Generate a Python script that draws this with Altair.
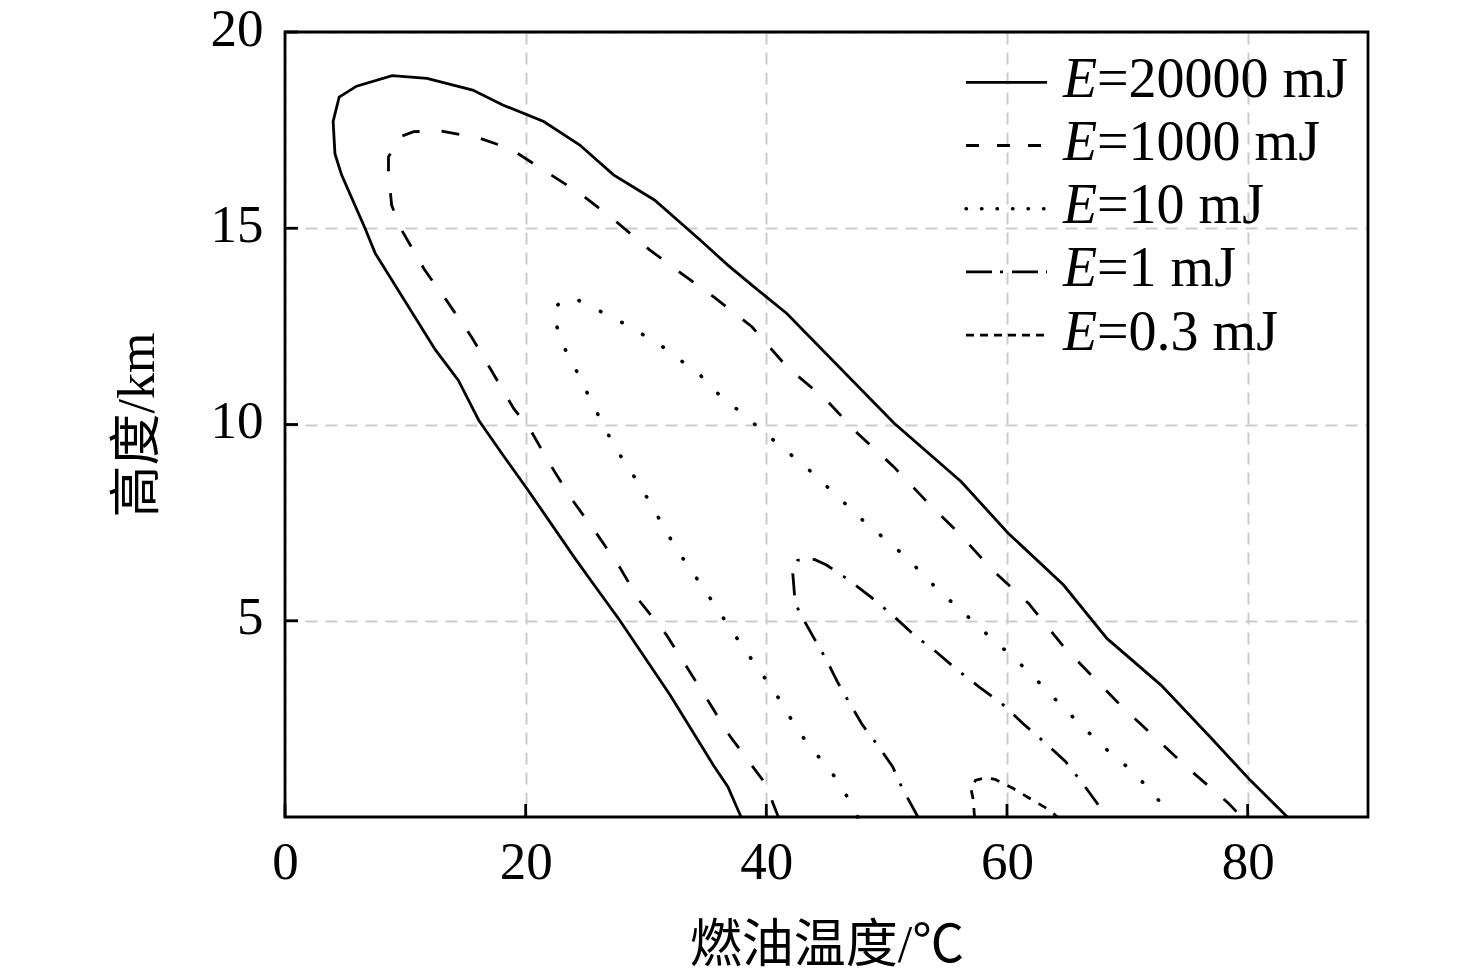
import altair as alt
import pandas as pd

W, H = 1083, 785
FONT = "Liberation Serif, Noto Sans CJK SC"

# ---- data ----
series = ["E=20000 mJ", "E=1000 mJ", "E=10 mJ", "E=1 mJ", "E=0.3 mJ"]
legend_rest = ["=20000 mJ", "=1000 mJ", "=10 mJ", "=1 mJ", "=0.3 mJ"]

T_20000 = [37.9, 36.8, 35.6, 32.0, 27.8, 25.6, 24.1, 20.1, 18.3, 16.1, 14.4, 12.5, 7.5, 6.65, 4.7, 4.15,
           4.0, 4.5, 5.95, 8.9, 11.8, 15.6, 18.1, 21.5, 24.5, 27.3, 30.7, 34.5, 36.8, 38.8, 41.7, 50.6,
           56.2, 60.1, 64.7, 68.3, 72.8, 77.0, 80.2, 83.3]
h_20000 = [0.0, 0.77, 1.32, 3.11, 5.02, 5.95, 6.59, 8.37, 9.14, 10.11, 11.13, 11.9, 14.36, 15.0, 16.36, 16.9,
           17.72, 18.34, 18.62, 18.89, 18.82, 18.52, 18.14, 17.72, 17.12, 16.36, 15.72, 14.7, 14.06, 13.55,
           12.83, 10.04, 8.54, 7.23, 5.91, 4.55, 3.36, 2.0, 0.94, 0.0]

T_1000 = [41.0, 39.9, 37.0, 35.2, 31.7, 29.5, 27.8, 25.9, 23.8, 22.0, 20.4, 19.0, 17.3, 15.5, 13.4, 11.6,
          9.55, 8.86, 8.6, 8.6, 9.55, 10.7, 12.9, 16.2, 18.7, 21.5, 24.5, 27.4, 30.3, 33.1, 35.6, 38.8,
          41.7, 45.0, 47.6, 50.6, 53.2, 56.0, 58.8, 61.8, 64.7, 69.3, 74.9, 78.4, 79.5]
h_1000 = [0.0, 0.86, 2.05, 2.94, 4.64, 5.49, 6.37, 7.22, 8.11, 9.0, 9.86, 10.41, 11.3, 12.23, 13.17, 13.94,
          15.03, 15.59, 16.44, 16.82, 17.33, 17.46, 17.48, 17.29, 17.03, 16.48, 15.89, 15.2, 14.45, 13.81,
          13.26, 12.49, 11.47, 10.62, 9.77, 8.92, 8.08, 7.23, 6.29, 5.44, 4.34, 2.89, 1.28, 0.35, 0.0]

T_10 = [47.6, 46.5, 45.4, 44.0, 42.7, 40.6, 39.4, 37.1, 34.8, 32.5, 29.6, 27.4, 26.5, 25.6, 24.8, 24.0,
        23.1, 22.5, 22.5, 23.2, 24.1, 25.75, 27.6, 31.0, 34.5, 36.1, 38.0, 39.6, 41.4, 43.1, 44.9, 46.6,
        48.3, 50.0, 51.8, 53.4, 55.1, 56.8, 58.5, 60.3, 62.0, 63.6, 65.3, 67.0, 68.7, 70.5, 72.0, 73.8]
h_10 = [0.0, 0.64, 1.15, 1.66, 2.17, 3.24, 3.74, 4.76, 5.82, 6.84, 8.4, 9.43, 9.96, 10.5, 11.0, 11.51,
        12.02, 12.58, 13.0, 13.2, 13.21, 12.95, 12.67, 12.07, 11.26, 10.75, 10.28, 9.86, 9.39, 8.97, 8.46,
        7.97, 7.48, 7.05, 6.57, 6.05, 5.56, 5.09, 4.61, 4.13, 3.64, 3.13, 2.6, 2.09, 1.6, 1.15, 0.64, 0.0]

T_1 = [52.6, 51.3, 50.5, 49.3, 48.0, 46.9, 45.9, 45.0, 43.9, 43.0, 42.4, 42.2, 42.6, 44.0, 45.0, 46.9,
       48.7, 50.5, 52.3, 54.1, 55.9, 57.7, 59.5, 61.3, 63.1, 64.9, 66.4, 67.7, 68.0]
h_1 = [0.0, 0.73, 1.28, 1.81, 2.34, 2.91, 3.45, 4.0, 4.59, 5.08, 5.44, 6.2, 6.54, 6.56, 6.42, 6.03,
       5.6, 5.14, 4.63, 4.21, 3.74, 3.31, 2.91, 2.39, 1.91, 1.4, 0.81, 0.26, 0.0]

T_03 = [57.3, 57.2, 57.0, 57.4, 58.2, 59.0, 60.5, 61.9, 63.4, 64.2]
h_03 = [0.0, 0.43, 0.73, 0.94, 1.0, 0.96, 0.73, 0.47, 0.2, 0.0]

x_ticks = [0, 20, 40, 60, 80]
y_ticks = [5, 10, 15, 20]

curves = [(T_20000, h_20000), (T_1000, h_1000), (T_10, h_10), (T_1, h_1), (T_03, h_03)]
curve_dash = [None, [18, 22], [0.5, 23.5], [22, 13, 3, 13], [9, 9]]
curve_cap = ["butt", "butt", "round", "butt", "butt"]
legend_dash = [None, [13, 18], [0.5, 15], [26, 8, 3, 9], [8, 6]]

# ---- scales / axes ----
xscale = alt.Scale(domain=[0, 90], nice=False, zero=False)
yscale = alt.Scale(domain=[0, 20], nice=False, zero=False)

xaxis = alt.Axis(values=x_ticks, title="燃油温度/℃", format="d",
                 grid=True, gridColor="#cccccc", gridDash=[12, 8], gridWidth=2,
                 ticks=False, tickSize=0, domain=False,
                 labelFont=FONT, labelFontSize=53, labelColor="black", labelPadding=19,
                 labelFlush=False, labelAngle=0,
                 titleFont=FONT, titleFontSize=52, titleFontWeight="normal", titleColor="black",
                 titleBaseline="alphabetic", titleY=144, titleX=W / 2, titleAlign="center")
yaxis = alt.Axis(values=y_ticks, title="高度/km", format="d",
                 grid=True, gridColor="#cccccc", gridDash=[12, 8], gridWidth=2,
                 ticks=False, tickSize=0, domain=False,
                 labelFont=FONT, labelFontSize=53, labelColor="black", labelPadding=22,
                 labelOffset=-3, labelFlush=False,
                 titleFont=FONT, titleFontSize=52, titleFontWeight="normal", titleColor="black",
                 titleBaseline="alphabetic", titleAngle=270, titleX=-132, titleY=H / 2,
                 titleAlign="center")

X = lambda: alt.X("T:Q", scale=xscale, axis=xaxis)
Y = lambda: alt.Y("h:Q", scale=yscale, axis=yaxis)

layers = []
for name, (T, h), dash, cap in zip(series, curves, curve_dash, curve_cap):
    df = pd.DataFrame({"T": T, "h": h, "i": list(range(len(T))), "E": name})
    kw = dict(color="black", strokeWidth=2.8, strokeCap=cap)
    if cap == "round":
        kw["strokeWidth"] = 3.6
    if dash is not None:
        kw["strokeDash"] = dash
    layers.append(alt.Chart(df).mark_line(**kw).encode(x=X(), y=Y(), order="i:Q"))

# inward ticks
layers.append(alt.Chart(pd.DataFrame({"T": x_ticks})).mark_rule(color="black", strokeWidth=2.8)
              .encode(x=X(), y=alt.value(H), y2=alt.value(H - 13)))
layers.append(alt.Chart(pd.DataFrame({"h": y_ticks})).mark_rule(color="black", strokeWidth=2.8)
              .encode(y=Y(), x=alt.value(0), x2=alt.value(13)))

# frame
layers.append(alt.Chart(pd.DataFrame({"a": [0]})).mark_rect(fillOpacity=0, stroke="black", strokeWidth=2.8)
              .encode(x=alt.value(0), x2=alt.value(W), y=alt.value(0), y2=alt.value(H)))

# legend (italic E)
row0, step = 50.3, 63.2
for k, (rest, dash, cap) in enumerate(zip(legend_rest, legend_dash, curve_cap)):
    ry = row0 + k * step
    one = pd.DataFrame({"lab": [rest]})
    kw = dict(color="black", strokeWidth=2.8, strokeCap=cap)
    if cap == "round":
        kw["strokeWidth"] = 3.4
    if dash is not None:
        kw["strokeDash"] = dash
    layers.append(alt.Chart(one).mark_rule(**kw)
                  .encode(x=alt.value(681), x2=alt.value(762), y=alt.value(ry)))
    layers.append(alt.Chart(one).mark_text(text="E", font="Liberation Serif", fontStyle="italic",
                                           fontSize=56, align="left", baseline="alphabetic", color="black")
                  .encode(x=alt.value(778), y=alt.value(ry + 14.5)))
    layers.append(alt.Chart(one).mark_text(font="Liberation Serif", fontSize=56, align="left",
                                           baseline="alphabetic", color="black")
                  .encode(text="lab:N", x=alt.value(812), y=alt.value(ry + 14.5)))

chart = (alt.layer(*layers)
         .properties(width=W, height=H,
                     padding={"left": 277, "top": 24, "right": 100, "bottom": 155},
                     autosize=alt.AutoSizeParams(type="none"))
         .configure_view(stroke=None))

chart.save("out.html", embed_options={"renderer": "svg", "actions": False})
